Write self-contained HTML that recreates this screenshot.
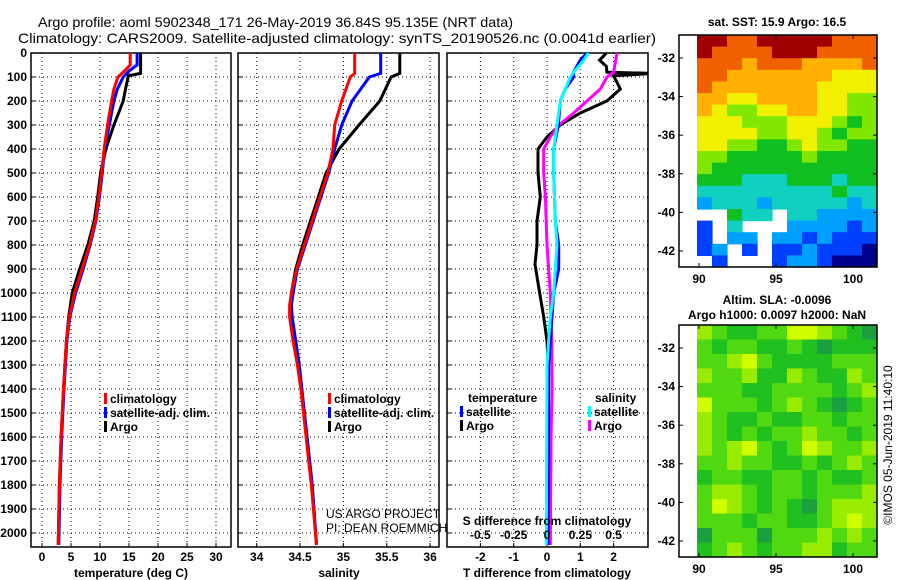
<!DOCTYPE html>
<html><head><meta charset="utf-8">
<style>
html,body{margin:0;padding:0;background:#fff;}
svg{display:block;}
text{font-family:"Liberation Sans",sans-serif;}
.b{font-weight:bold;font-size:12px;}
</style></head>
<body>
<svg id="fig" width="900" height="580" viewBox="0 0 900 580" xmlns="http://www.w3.org/2000/svg">
<text x="38" y="27" font-size="14" textLength="475" lengthAdjust="spacingAndGlyphs">Argo profile: aoml 5902348_171 26-May-2019 36.84S 95.135E (NRT data)</text>
<text x="18" y="43" font-size="14" textLength="638" lengthAdjust="spacingAndGlyphs">Climatology: CARS2009. Satellite-adjusted climatology: synTS_20190526.nc (0.0041d earlier)</text>
</svg>
<script>
// ---------- data ----------
const depthTicks=[0,100,200,300,400,500,600,700,800,900,1000,1100,1200,1300,1400,1500,1600,1700,1800,1900,2000];
const tempTicks=[0,5,10,15,20,25,30];
const salTicks=[34,34.5,35,35.5,36];
const salTickLabels=["34","34.5","35","35.5","36"];
const tdiffTicks=[-2,-1,0,1,2];
const sdiffTicks=[-0.5,-0.25,0,0.25,0.5];
const sdiffTickLabels=["-0.5","-0.25","0","0.25","0.5"];

const tArgoDepth=[0,85,95,150,200,250,300,400,500,600,700,800,900,1000,1100,1200,1400,1600,1800,2050];
const tArgo=[17.0,17.0,14.9,14.4,14.0,13.2,12.4,11.0,10.1,9.6,9.0,7.9,6.5,5.2,4.6,4.2,3.7,3.3,3.0,2.8];
const tClimDepth=[0,50,75,100,150,200,300,400,500,600,700,800,900,1000,1100,1200,1400,1600,1800,2050];
const tClim=[15.2,15.2,14.2,13.1,12.4,12.0,11.3,10.7,10.3,9.8,9.2,8.2,6.9,5.6,4.7,4.2,3.7,3.3,3.0,2.8];
const tSat=[16.4,16.4,15.0,14.0,13.0,12.4,11.6,10.8,10.4,9.9,9.3,8.3,7.1,5.8,4.8,4.3,3.8,3.4,3.1,2.9];

const sDepth=[0,85,100,200,300,400,500,600,700,800,900,1000,1050,1100,1200,1300,1400,1600,1800,2050];
const sArgo=[35.65,35.65,35.55,35.42,35.18,34.95,34.8,34.71,34.62,34.53,34.45,34.4,34.39,34.4,34.45,34.49,34.52,34.58,34.64,34.69];
const sClim=[35.13,35.13,35.08,34.98,34.9,34.88,34.82,34.73,34.64,34.55,34.46,34.4,34.38,34.38,34.42,34.47,34.51,34.57,34.63,34.69];
const sSat=[35.43,35.43,35.3,35.1,34.98,34.9,34.83,34.74,34.65,34.56,34.47,34.42,34.4,34.41,34.45,34.49,34.52,34.58,34.64,34.69];

const dTArgoDepth=[0,30,55,80,85,95,150,200,250,300,350,400,500,600,700,800,880,950,1000,1100,1200,1300,1600,2050];
const dTArgo=[1.78,1.58,1.78,1.8,3.2,2.0,2.2,1.8,1.0,0.4,0.0,-0.27,-0.27,-0.2,-0.3,-0.3,-0.36,-0.28,-0.22,-0.1,0.0,0.04,0.05,0.0];
const dSArgoDepth=[0,80,100,150,200,250,300,350,400,500,600,800,1000,1200,1400,1600,2050];
const dSArgo=[0.525,0.5,0.45,0.4,0.3,0.2,0.09,0.025,-0.025,-0.025,-0.012,0,0.025,0.035,0.038,0.03,0.025];
const dSatDepth=[0,30,80,100,150,200,300,400,500,700,800,900,1000,1100,1200,1300,2050];
const dTSat=[1.2,1.0,0.8,0.8,0.55,0.4,0.34,0.2,0.2,0.25,0.35,0.35,0.2,0.15,0.1,0.05,0.03];
const dSSat=[0.31,0.275,0.2,0.175,0.138,0.1,0.075,0.05,0.05,0.062,0.075,0.062,0.05,0.025,0.012,0,-0.005];

const lonTicks=[90,95,100];
const latTicks=[-32,-34,-36,-38,-40,-42];
const sstRows=["998899999888","988889998888","888788877778","887777777666","877777776666","776677776655",
"765566776655","666555666545","666655665455","665544565544","554444454444","544444444444",
"444333444344","333333333433","233323333323","ww433w332222","1w3www222212","1w22w2212111",
"12w1w1121110","w1www1221000"];
const slaRows=["321122443210","212211210111","223421111222","322311321132","222112222123","422212321012",
"321121122122","321212232212","323421243223","223221121232","122112212112","233212212223",
"243212102333","222122112343","022202223232","123212233122"];

// ---------- helpers ----------
const NS="http://www.w3.org/2000/svg";
const svg=document.getElementById('fig');
function el(tag,attrs,parent){const e=document.createElementNS(NS,tag);for(const k in attrs)e.setAttribute(k,attrs[k]);(parent||svg).appendChild(e);return e;}
function txt(x,y,s,attrs,parent){const e=el('text',Object.assign({x:x,y:y},attrs||{}),parent);e.textContent=s;return e;}
const Y0=53, YB=547;
const yD=d=>Y0+d*0.24;
const xT=v=>42+v*5.8;
const xS=v=>256.7+(v-34)*86.7;
const xDT=v=>547+v*33.3;
const xDS=v=>547+v*133.3;

const panels=[{x0:31,x1:231,name:'temperature-panel'},{x0:238,x1:439,name:'salinity-panel'},{x0:447,x1:648,name:'difference-panel'}];
const defs=el('defs',{});
panels.forEach((p,i)=>{const c=el('clipPath',{id:'clip'+i},defs);el('rect',{x:p.x0,y:Y0,width:p.x1-p.x0,height:YB-Y0},c);});

function grid(p,xs,gi){
  const g=el('g',{});
  
  
  depthTicks.forEach(d=>{const l=el('line',{x1:p.x0,x2:p.x1,y1:yD(d),y2:yD(d),stroke:'#000','stroke-width':1,'stroke-dasharray':'1,3'},g);
    
    el('line',{x1:p.x0,x2:p.x0+4,y1:yD(d),y2:yD(d),stroke:'#000'},g);});
  xs.forEach(x=>{const l=el('line',{x1:x,x2:x,y1:Y0,y2:YB,stroke:'#000','stroke-width':1,'stroke-dasharray':'1,3'},g);
    
    el('line',{x1:x,x2:x,y1:YB,y2:YB-4,stroke:'#000'},g);});
  const f=el('rect',{x:p.x0,y:Y0,width:p.x1-p.x0,height:YB-Y0,fill:'none',stroke:'#000','stroke-width':1.5},g);
  
  return g;
}
function line(depths,vals,sx,color,gi,name){
  const pts=depths.map((d,i)=>sx(vals[i]).toFixed(1)+','+yD(d).toFixed(1)).join(' ');
  const pl=el('polyline',{points:pts,fill:'none',stroke:color,'stroke-width':3,'clip-path':'url(#clip'+gi+')'});
  
  
}
function legendItem(x,y,color,label,name){
  el('rect',{x:x,y:y-10,width:3,height:11,fill:color});
  const t=txt(x+6,y,label,{class:'b'});
  
  
}

// depth labels
depthTicks.forEach(d=>{const t=txt(27,yD(d)+4,String(d),{class:'b','text-anchor':'end'});
  });

// panel 1
grid(panels[0],tempTicks.map(xT),0);
line(tArgoDepth,tArgo,xT,'#000',0,'temp-argo-line');
line(tClimDepth,tSat,xT,'#0000ff',0,'temp-satellite-line');
line(tClimDepth,tClim,xT,'#ff0000',0,'temp-climatology-line');
tempTicks.forEach(v=>{const t=txt(xT(v),561,String(v),{class:'b','text-anchor':'middle'});
  });
let at=txt(131,577,'temperature (deg C)',{class:'b','text-anchor':'middle'});

legendItem(104,403,'#ff0000','climatology','legend-climatology');
legendItem(104,417,'#0000ff','satellite-adj. clim.','legend-satellite');
legendItem(104,431,'#000','Argo','legend-argo');

// panel 2
grid(panels[1],salTicks.map(xS),1);
line(sDepth,sArgo,xS,'#000',1,'sal-argo-line');
line(sDepth,sSat,xS,'#0000ff',1,'sal-satellite-line');
line(sDepth,sClim,xS,'#ff0000',1,'sal-climatology-line');
salTicks.forEach((v,i)=>{const t=txt(xS(v),561,salTickLabels[i],{class:'b','text-anchor':'middle'});
  });
at=txt(339,577,'salinity',{class:'b','text-anchor':'middle'});

legendItem(328,403,'#ff0000','climatology','legend-climatology');
legendItem(328,417,'#0000ff','satellite-adj. clim.','legend-satellite');
legendItem(328,431,'#000','Argo','legend-argo');
let cr=txt(326,518,'US ARGO PROJECT',{'font-size':'12'});
cr=txt(326,532,'PI: DEAN ROEMMICH',{'font-size':'12'});

// panel 3
grid(panels[2],tdiffTicks.map(xDT),2);
line(dTArgoDepth,dTArgo,xDT,'#000',2,'tdiff-argo-line');
line(dSArgoDepth,dSArgo,xDS,'#ff00ff',2,'sdiff-argo-line');
line(dSatDepth,dTSat,xDT,'#0000ff',2,'tdiff-satellite-line');
line(dSatDepth,dSSat,xDS,'#00ffff',2,'sdiff-satellite-line');
tdiffTicks.forEach(v=>{const t=txt(xDT(v),561,String(v),{class:'b','text-anchor':'middle'});
  });
sdiffTicks.forEach((v,i)=>{const t=txt(xDS(v),539,sdiffTickLabels[i],{class:'b','text-anchor':'middle'});
  });
at=txt(547,525,'S difference from climatology',{class:'b','text-anchor':'middle'});

at=txt(547,577,'T difference from climatology',{class:'b','text-anchor':'middle'});

at=txt(468,402,'temperature',{class:'b'});
at=txt(595,402,'salinity',{class:'b'});
legendItem(460,416,'#0000ff','satellite','legend-t-satellite');
legendItem(460,430,'#000','Argo','legend-t-argo');
legendItem(588,416,'#00ffff','satellite','legend-s-satellite');
legendItem(588,430,'#ff00ff','Argo','legend-s-argo');

// ---------- maps ----------
const jet=['#00008f','#0040ff','#00a0ff','#10d0c0','#10c020','#80e800','#f0f000','#ffb000','#f06000','#a00000'];
const slaPal=['#1aa040','#20c020','#50d810','#99ec00','#d0ff00'];
const MX0=679,MX1=877,DX0=697;
const xLon=v=>699+(v-90)*15.4;
function drawMap(rows,pal,y0,y1,latTop,name,title1,title2){
  const g=el('g',{});
  
  
  const nr=rows.length,nc=rows[0].length,cw=(MX1-DX0)/nc,ch=(y1-y0)/nr;
  rows.forEach((r,i)=>{for(let j=0;j<nc;j++){const c=r[j];if(c==='w')continue;
    const rc=el('rect',{x:(DX0+j*cw).toFixed(2),y:(y0+i*ch).toFixed(2),width:(cw+0.6).toFixed(2),height:(ch+0.6).toFixed(2),fill:pal[+c]},g);
    }});
  const fr=el('rect',{x:MX0,y:y0,width:MX1-MX0,height:y1-y0,fill:'none',stroke:'#000','stroke-width':1.5},g);
  
  const yLat=v=>latTop+(-32-v)*19.3;
  latTicks.forEach(v=>{el('line',{x1:MX0,x2:MX0+4,y1:yLat(v),y2:yLat(v),stroke:'#000'},g);
    el('line',{x1:MX1,x2:MX1-4,y1:yLat(v),y2:yLat(v),stroke:'#000'},g);
    const t=txt(675,yLat(v)+4,String(v),{class:'b','text-anchor':'end'},g);
    });
  lonTicks.forEach(v=>{el('line',{x1:xLon(v),x2:xLon(v),y1:y1,y2:y1-4,stroke:'#000'},g);
    el('line',{x1:xLon(v),x2:xLon(v),y1:y0,y2:y0+4,stroke:'#000'},g);
    const t=txt(xLon(v),y1+16,String(v),{class:'b','text-anchor':'middle'},g);
    });
  if(title1){const t=txt(777,y0-(title2?21:9),title1,{class:'b','text-anchor':'middle'},g);
    }
  if(title2){const t=txt(777,y0-6,title2,{class:'b','text-anchor':'middle'},g);
    }
}
drawMap(sstRows,jet,35,267,58,'sst-map','sat. SST: 15.9 Argo: 16.5',null);
drawMap(slaRows,slaPal,325,557,348,'sla-map','Altim. SLA: -0.0096','Argo h1000: 0.0097 h2000: NaN');
const im=txt(0,0,'©IMOS 05-Jun-2019 11:40:10',{'font-size':'12','text-anchor':'middle',transform:'translate(892,445) rotate(-90)'});


</script>
</body></html>
